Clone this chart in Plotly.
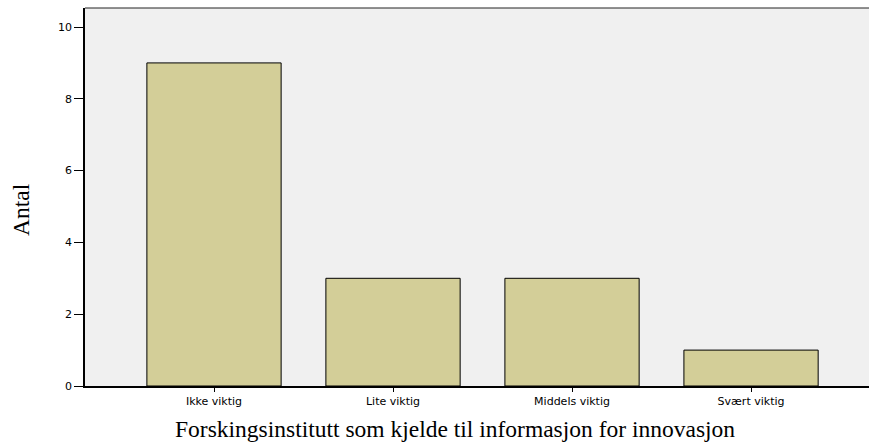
import plotly.graph_objects as go

categories = ["Ikke viktig", "Lite viktig", "Middels viktig", "Svært viktig"]
counts = [9, 3, 3, 1]
y_ticks = [0, 2, 4, 6, 8, 10]
x_title = "Forskingsinstitutt som kjelde til informasjon for innovasjon"
y_title = "Antal"

W, H = 869, 444
L, R, T, B = 85, 0, 8, 444 - 386

fig = go.Figure(go.Bar(
    x=categories, y=counts,
    width=0.75,
    marker=dict(color="#d3ce98", line=dict(color="black", width=1)),
))

fig.update_layout(
    width=W, height=H,
    margin=dict(l=L, r=R, t=T, b=B, autoexpand=False),
    paper_bgcolor="white",
    plot_bgcolor="#f0f0f0",
    showlegend=False,
    xaxis=dict(
        range=[-0.7207, 3.659], automargin=False,
        showline=True, linecolor="black", linewidth=1.5,
        ticks="outside", ticklen=4, tickcolor="black", tickwidth=1,
        tickfont=dict(family="DejaVu Sans", size=11, color="black"),
        showgrid=False,
    ),
    yaxis=dict(
        range=[0, 10.53], automargin=False,
        tickvals=y_ticks,
        showline=True, linecolor="black", linewidth=1.5,
        ticks="outside", ticklen=9, tickcolor="black", tickwidth=1,
        tickfont=dict(family="DejaVu Sans", size=11, color="black"),
        showgrid=False, zeroline=False,
    ),
    shapes=[dict(type="line", xref="paper", yref="paper", x0=0, x1=1, y0=1, y1=1,
                 line=dict(color="#222222", width=1))],
    annotations=[
        dict(text=x_title, xref="paper", yref="paper", x=(455 - L) / (W - L - R),
             y=-(429 - (H - B)) / (H - T - B), xanchor="center", yanchor="middle",
             showarrow=False, font=dict(family="Liberation Serif", size=23.5, color="black")),
        dict(text=y_title, xref="paper", yref="paper", x=-(L - 21) / (W - L - R),
             y=((H - B) - 210) / (H - T - B), xanchor="center", yanchor="middle", textangle=-90,
             showarrow=False, font=dict(family="Liberation Serif", size=23.5, color="black")),
    ],
)

fig.write_html("out.html", config={"displayModeBar": False},
               post_script="document.body.style.margin='0px';")
